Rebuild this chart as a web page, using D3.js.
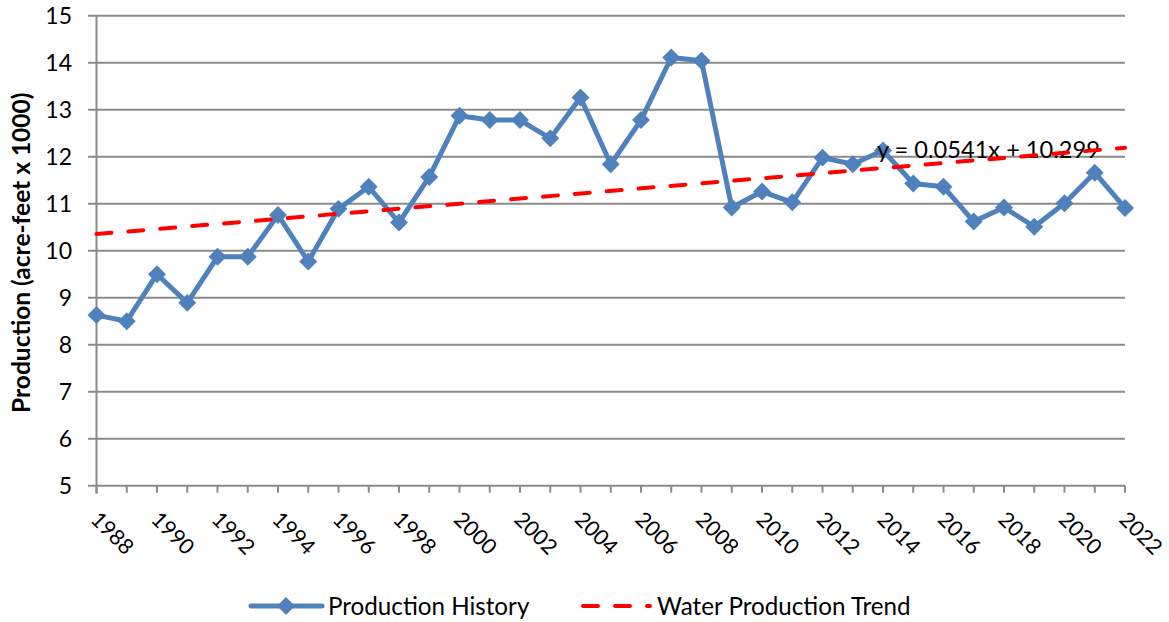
<!DOCTYPE html>
<html><head><meta charset="utf-8">
<script src="https://cdn.jsdelivr.net/npm/d3@7"></script>
<style>body{margin:0;background:#fff}svg{display:block}text{font-family:Lato,"Open Sans",sans-serif}</style>
</head><body>
<svg id="c" width="1169" height="622"></svg>
<script>
const years = d3.range(1988, 2023);
const production = [8.63,8.50,9.50,8.89,9.87,9.87,10.76,9.77,10.89,11.36,10.60,11.57,12.87,12.78,12.78,12.39,13.26,11.84,12.78,14.11,14.04,10.92,11.26,11.03,11.98,11.84,12.13,11.43,11.36,10.62,10.92,10.51,11.01,11.66,10.91];
const trendYears = [1988, 2022];
const trendValues = [10.353, 12.19];
const yTicks = [5,6,7,8,9,10,11,12,13,14,15];
const xTickLabels = d3.range(1988, 2023, 2);
const equation = "y = 0.0541x + 10.299";
const seriesNames = ["Production History", "Water Production Trend"];

const svg = d3.select("#c");
const x = d3.scaleLinear().domain([1988, 2022]).range([96.5, 1125]);
const y = d3.scaleLinear().domain([5, 15]).range([485.7, 15.7]);
const grid = "#8a8a8a";
const blue = "#4F81BD";

svg.append("g").selectAll("line").data(yTicks).join("line")
  .attr("x1", 88).attr("x2", 1125)
  .attr("y1", d => y(d)).attr("y2", d => y(d))
  .attr("stroke", grid).attr("stroke-width", 2);
svg.append("line").attr("x1", x(1988)).attr("x2", x(1988)).attr("y1", y(15)).attr("y2", y(5)+8)
  .attr("stroke", grid).attr("stroke-width", 2);
svg.append("g").selectAll("line").data(years).join("line")
  .attr("x1", d => x(d)).attr("x2", d => x(d)).attr("y1", y(5)).attr("y2", y(5)+7)
  .attr("stroke", grid).attr("stroke-width", 2);
svg.append("g").selectAll("text").data(yTicks).join("text")
  .attr("x", 72).attr("y", d => y(d)).attr("dy", "0.36em")
  .attr("text-anchor", "end").attr("font-size", 23).attr("fill", "#000").text(d => d);
svg.append("g").selectAll("text").data(xTickLabels).join("text")
  .attr("transform", d => `translate(${x(d)-7},${y(5)+35}) rotate(45)`)
  .attr("text-anchor", "start").attr("font-size", 21.5).attr("fill", "#000").text(d => d);
svg.append("text").attr("transform", `translate(30,${y(10)+2}) rotate(-90)`)
  .attr("text-anchor", "middle").attr("font-size", 24.5).attr("font-weight", "bold").attr("fill", "#000")
  .text("Production (acre-feet x 1000)");

const line = d3.line().x((d, i) => x(years[i])).y(d => y(d));
svg.append("path").datum(production).attr("d", line)
  .attr("fill", "none").attr("stroke", blue).attr("stroke-width", 5).attr("stroke-linejoin", "round");
const diamond = d3.symbol().type(d3.symbolDiamond2).size(205);
svg.append("g").selectAll("path").data(production).join("path")
  .attr("transform", (d, i) => `translate(${x(years[i])},${y(d)})`)
  .attr("d", diamond).attr("fill", blue);

svg.append("text").attr("x", 877).attr("y", 158).attr("font-size", 23.6).attr("fill", "#000").text(equation);

const tline = d3.line().x((d, i) => x(trendYears[i])).y(d => y(d));
svg.append("path").datum(trendValues).attr("d", tline)
  .attr("fill", "none").attr("stroke", "#FF0000").attr("stroke-width", 4)
  .attr("stroke-dasharray", "15,17").attr("stroke-linecap", "round");

const ly = 606;
svg.append("line").attr("x1", 251).attr("x2", 322).attr("y1", ly).attr("y2", ly)
  .attr("stroke", blue).attr("stroke-width", 5).attr("stroke-linecap", "round");
svg.append("path").attr("transform", `translate(286,${ly})`).attr("d", diamond).attr("fill", blue);
svg.append("text").attr("x", 328).attr("y", ly).attr("dy", "0.36em").attr("font-size", 24.2).attr("fill", "#000").text(seriesNames[0]);
svg.append("line").attr("x1", 583).attr("x2", 650).attr("y1", ly).attr("y2", ly)
  .attr("stroke", "#FF0000").attr("stroke-width", 4).attr("stroke-dasharray", "15,17").attr("stroke-linecap", "round");
svg.append("text").attr("x", 657).attr("y", ly).attr("dy", "0.36em").attr("font-size", 24.2).attr("fill", "#000").text(seriesNames[1]);
</script>
</body></html>
